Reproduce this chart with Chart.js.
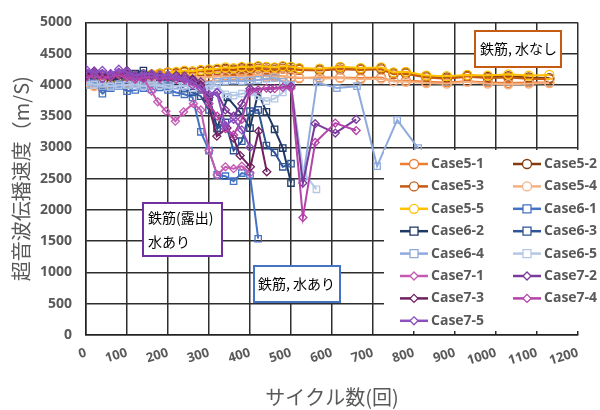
<!DOCTYPE html>
<html>
<head>
<meta charset="utf-8">
<script src="https://cdn.jsdelivr.net/npm/chart.js@4/dist/chart.umd.min.js"></script>
<style>
  html, body { margin: 0; padding: 0; background: #fff; }
  #wrap { width: 600px; height: 410px; }
</style>
</head>
<body>
<div id="wrap"><canvas id="speedChart"></canvas></div>
<script>
// x (cycles) and y (m/s) values
const case5X = [0,10,20,40,60,80,100,120,140,160,180,200,220,240,260,280,300,320,340,360,380,400,420,440,460,480,500,520,570,620,670,720,750,780,830,880,930,980,1030,1080,1130];
const case5_1 = [4080,4050,4000,3980,4020,4060,4080,4100,4120,4130,4150,4140,4160,4150,4140,4150,4130,4140,4150,4160,4150,4160,4150,4160,4150,4140,4120,4110,4120,4120,4110,4120,4060,4070,4050,4040,4060,4040,4030,4040,4040];
const case5_2 = [4150,4120,4100,4080,4100,4120,4140,4150,4170,4160,4180,4200,4190,4210,4200,4220,4230,4240,4260,4250,4270,4260,4290,4280,4270,4290,4280,4260,4250,4280,4260,4270,4190,4200,4140,4120,4150,4130,4140,4120,4110];
const case5_3 = [4120,4100,4080,4050,4080,4110,4130,4140,4150,4160,4170,4190,4180,4200,4190,4210,4220,4230,4240,4230,4250,4240,4260,4250,4240,4260,4250,4240,4230,4250,4240,4250,4170,4180,4120,4100,4130,4110,4120,4100,4090];
const case5_4 = [4050,4020,3980,3950,3990,4030,4050,4070,4080,4090,4100,4110,4100,4120,4110,4130,4120,4140,4130,4120,4140,4130,4150,4140,4130,4140,4130,4120,4100,4110,4090,4100,4060,4050,4030,4020,4050,4020,4010,4020,4030];
const case5_5 = [4140,4110,4090,4070,4090,4110,4130,4150,4160,4170,4180,4200,4210,4230,4220,4240,4250,4260,4280,4270,4290,4280,4300,4290,4280,4300,4290,4270,4260,4290,4270,4280,4200,4210,4150,4140,4160,4150,4170,4150,4160];

const case6_1X = [0,10,20,40,60,80,100,120,140,160,180,200,220,240,260,280,300,320,340,360,380,400,420];
const case6_1 = [4150,4100,4050,3860,3950,3980,3900,3920,3950,3930,3960,3920,3880,3850,3800,3250,2950,2560,2540,2460,2590,2560,1540];
const case6_2X = [0,20,40,60,80,100,120,140,160,180,200,220,240,260,280,300,320,345,375,400,420,440,460,480,500];
const case6_2 = [4100,4150,4120,4080,4100,4150,4180,4230,4150,4120,4100,4080,4050,4000,3950,3800,3310,3800,3570,3310,3880,3570,3290,2990,2430];
const case6_3X = [0,20,40,60,80,100,120,140,160,180,200,220,240,260,280,300,320,340,360,380,400,420,440,460,480,500];
const case6_3 = [4050,4080,4000,3970,4010,4040,4050,4020,3990,4000,4030,3980,3940,3880,3820,3600,3300,3400,2950,3100,3580,3600,3030,2920,2690,2740];
const case6_4X = [0,20,40,60,80,100,120,140,160,180,200,220,240,260,280,300,320,340,360,380,400,420,440,460,480,500,530,563,612,661,710,759,810];
const case6_4 = [4000,4020,3980,3990,4010,4000,3980,4000,4010,3990,4000,3980,3990,4000,3960,4000,4050,4060,4070,4060,4070,4080,4100,4110,4050,4000,2530,4040,3950,3980,2700,3440,2990];
const case6_5X = [0,20,40,60,80,100,120,140,160,180,200,220,240,260,280,300,320,340,360,380,400,420,440,460,480,500,530,562];
const case6_5 = [4050,4000,4020,3970,3990,4000,4010,3980,3990,4000,3960,3980,3990,3950,3960,3980,3990,3850,3830,3860,3880,3820,3740,3780,3880,3990,2600,2330];

const case7_1X = [0,20,40,60,80,100,120,140,160,175,195,218,238,262,280,300,320,340,360,380,400];
const case7_1 = [4200,4220,4150,4180,4200,4150,4120,4100,3900,3730,3580,3420,3570,3700,3600,2950,2560,2690,2660,2700,2590];
const case7_2X = [0,20,40,60,80,100,120,140,160,180,200,220,240,260,280,300,320,340,360,380,400,450,500,529,559,608,659];
const case7_2 = [4180,4220,4170,4150,4200,4230,4160,4140,4180,4160,4130,4150,4140,4100,4050,3800,3880,3600,3500,3700,3940,3940,3980,2430,3380,3230,3450];
const case7_3X = [0,20,40,60,80,100,120,140,160,180,200,220,240,260,280,295,319,344,360,376,401,421,441];
const case7_3 = [4150,4200,4180,4120,4160,4190,4140,4110,4150,4130,4120,4140,4100,4080,4000,3780,3180,3310,3150,2870,2690,3260,2610];
const case7_4X = [0,20,40,60,80,100,120,140,160,180,200,220,240,260,280,300,320,340,360,380,400,420,440,460,480,500,529,559,608,659];
const case7_4 = [4120,4150,4100,4130,4160,4120,4090,4110,4130,4100,4120,4090,4080,4000,3950,3700,3500,3300,3200,3450,3900,3920,3950,3940,3960,3950,1880,3080,3390,3270];
const case7_5X = [0,20,40,60,80,100,120,140,160,180,200,220,240,260,280,300,319,340,360,380,400];
const case7_5 = [4250,4200,4230,4180,4250,4200,4150,4180,4170,4150,4160,4130,4100,4050,3950,3850,3880,3350,3450,3280,3000];

const xTicks = [0,100,200,300,400,500,600,700,800,900,1000,1100,1200];
const yTicks = [0,500,1000,1500,2000,2500,3000,3500,4000,4500,5000];

const series = [
  ['Case5-1', case5X, case5_1, '#ED7D31', 'circle'],
  ['Case5-2', case5X, case5_2, '#843C0C', 'circle'],
  ['Case5-3', case5X, case5_3, '#C55A11', 'circle'],
  ['Case5-4', case5X, case5_4, '#F4B183', 'circle'],
  ['Case5-5', case5X, case5_5, '#FFC000', 'circle'],
  ['Case6-1', case6_1X, case6_1, '#4472C4', 'rect'],
  ['Case6-2', case6_2X, case6_2, '#203864', 'rect'],
  ['Case6-3', case6_3X, case6_3, '#2F5597', 'rect'],
  ['Case6-4', case6_4X, case6_4, '#8FAADC', 'rect'],
  ['Case6-5', case6_5X, case6_5, '#B4C7E7', 'rect'],
  ['Case7-1', case7_1X, case7_1, '#C45BB3', 'rectRot'],
  ['Case7-2', case7_2X, case7_2, '#7A3A9A', 'rectRot'],
  ['Case7-3', case7_3X, case7_3, '#6E2060', 'rectRot'],
  ['Case7-4', case7_4X, case7_4, '#B542A8', 'rectRot'],
  ['Case7-5', case7_5X, case7_5, '#8B4FBF', 'rectRot']
];

const datasets = series.map(([label, xs, ys, color, style], i) => ({
  label,
  data: xs.map((x, j) => ({ x, y: ys[j] })),
  showLine: true,
  borderColor: color,
  borderWidth: 2,
  pointStyle: style,
  pointRadius: style === 'rectRot' ? 4 : 4.5,
  pointBorderColor: color,
  pointBorderWidth: 1.3,
  pointBackgroundColor: 'rgba(255,255,255,0)',
  order: 20 - i
}));

const greyText = '#595959';

// point marker for the legend
function drawMarker(ctx, style, x, y, color) {
  ctx.save();
  ctx.strokeStyle = color;
  ctx.fillStyle = '#fff';
  ctx.lineWidth = 1.3;
  ctx.beginPath();
  if (style === 'circle') {
    ctx.arc(x, y, 4.5, 0, Math.PI * 2);
  } else if (style === 'rect') {
    ctx.rect(x - 4, y - 4, 8, 8);
  } else {
    ctx.moveTo(x, y - 4); ctx.lineTo(x + 4, y); ctx.lineTo(x, y + 4); ctx.lineTo(x - 4, y); ctx.closePath();
  }
  ctx.fill();
  ctx.stroke();
  ctx.restore();
}

function noteBox(ctx, x, y, w, h, border, lines) {
  ctx.save();
  ctx.fillStyle = '#fff';
  ctx.fillRect(x, y, w, h);
  ctx.strokeStyle = border;
  ctx.lineWidth = 2;
  ctx.strokeRect(x, y, w, h);
  ctx.fillStyle = '#000';
  ctx.font = '14px "Noto Sans CJK JP"';
  ctx.textBaseline = 'middle';
  ctx.textAlign = 'left';
  lines.forEach(([t, tx, ty]) => ctx.fillText(t, tx, ty));
  ctx.restore();
}

// legend sits inside the plot on a white panel, plus the text boxes
const overlay = {
  id: 'overlay',
  afterDraw(chart) {
    const ctx = chart.ctx;
    ctx.save();
    ctx.fillStyle = '#fff';
    ctx.fillRect(384, 150, 216, 181);
    ctx.font = 'bold 14px "Open Sans"';
    ctx.textBaseline = 'middle';
    ctx.fillStyle = greyText;
    series.forEach(([label, , , color, style], i) => {
      const col = i % 2;
      const row = Math.floor(i / 2);
      const lx = col === 0 ? 400 : 513;
      const ly = 164 + row * 22.4;
      ctx.strokeStyle = color;
      ctx.lineWidth = 2.5;
      ctx.beginPath();
      ctx.moveTo(lx, ly);
      ctx.lineTo(lx + 28, ly);
      ctx.stroke();
      drawMarker(ctx, style, lx + 14, ly, color);
      ctx.fillStyle = greyText;
      ctx.fillText(label, lx + 31, ly);
    });
    ctx.restore();

    noteBox(ctx, 475, 31, 86, 36, '#C55A11', [['鉄筋, 水なし', 480, 49]]);
    noteBox(ctx, 143, 203, 79, 53, '#7030A0', [['鉄筋(露出)', 148, 218], ['水あり', 148, 242]]);
    noteBox(ctx, 254, 266, 86, 36, '#4472C4', [['鉄筋, 水あり', 258, 284]]);
  }
};

new Chart(document.getElementById('speedChart'), {
  type: 'scatter',
  data: { datasets },
  options: {
    responsive: true,
    maintainAspectRatio: false,
    animation: false,
    layout: { padding: { top: 16, right: 22, left: 0, bottom: 0 } },
    plugins: {
      legend: { display: false },
      tooltip: { enabled: false }
    },
    scales: {
      x: {
        type: 'linear',
        min: 0,
        max: 1200,
        afterBuildTicks: (s) => { s.ticks = xTicks.map(v => ({ value: v })); },
        afterFit: (s) => { s.height = 75; },
        ticks: {
          minRotation: 17,
          maxRotation: 17,
          padding: 10,
          color: greyText,
          callback: (v) => String(v),
          font: { family: '"Open Sans"', size: 13, weight: 'bold' }
        },
        grid: { color: '#2e2e2e', lineWidth: 1.5, drawTicks: false },
        border: { color: '#222', width: 1.5 },
        title: {
          display: true,
          text: 'サイクル数(回)',
          color: greyText,
          padding: { top: 0, bottom: 1 },
          font: { family: '"Noto Sans CJK JP"', size: 20 }
        }
      },
      y: {
        type: 'linear',
        min: 0,
        max: 5000,
        afterBuildTicks: (s) => { s.ticks = yTicks.map(v => ({ value: v })); },
        afterFit: (s) => { s.width = 86; },
        ticks: {
          padding: 14,
          color: greyText,
          callback: (v) => String(v),
          font: { family: '"Open Sans"', size: 14, weight: 'bold' }
        },
        grid: { color: '#2e2e2e', lineWidth: 1.5, drawTicks: false },
        border: { color: '#222', width: 1.5 },
        title: {
          display: true,
          text: '超音波伝播速度（m/S)',
          color: greyText,
          padding: { top: 9, bottom: 0 },
          font: { family: '"Noto Sans CJK JP"', size: 20 }
        }
      }
    }
  },
  plugins: [overlay]
});
</script>
</body>
</html>
